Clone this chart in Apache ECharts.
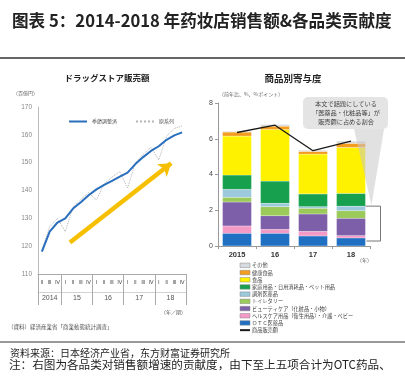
<!DOCTYPE html>
<html><head><meta charset="utf-8">
<script src="https://cdn.jsdelivr.net/npm/echarts@6/dist/echarts.min.js"></script>
<style>html,body{margin:0;padding:0;background:#fff;}#c{width:405px;height:382px;}</style>
</head><body><div id="c"></div>
<script>
// ---- left chart data (quarterly, 2014 Q2 - 2018 Q4) ----
const quarterLabels = ['Ⅱ','Ⅲ','Ⅳ','Ⅰ','Ⅱ','Ⅲ','Ⅳ','Ⅰ','Ⅱ','Ⅲ','Ⅳ','Ⅰ','Ⅱ','Ⅲ','Ⅳ','Ⅰ','Ⅱ','Ⅲ','Ⅳ'];
const yearLabels = ['2014','15','16','17','18'];
const yearBounds = [0,3,7,11,15,19];
const seasonal = [118.0,125.2,128.5,130.0,133.5,135.8,138.3,140.4,142.0,143.5,145.0,146.4,149.5,152.0,154.2,155.9,158.2,159.8,160.9];
const original = [118.5,127.0,130.0,125.2,134.0,136.8,139.2,136.6,142.5,144.8,146.8,140.8,150.0,153.0,155.5,151.0,159.5,162.3,163.2];
const trendArrow = [[4.1,121.3],[17.1,149.8]];
const leftTicks = [110,170,10];

// ---- right chart data ----
const barYears = ['2015','16','17','18'];
const otc        = [0.71,0.71,0.56,0.45];
const healthcare = [0.41,0.22,0.26,0.13];
const beauty     = [1.34,0.76,0.97,0.97];
const toiletry   = [0.26,0.51,0.32,0.42];
const dispensing = [0.45,0.19,0.09,0.26];
const household  = [0.80,1.24,0.71,0.71];
const food       = [2.18,2.89,2.23,2.57];
const healthFood = [0.22,0.18,0.15,0.23];
const others     = [0.05,0.10,0.07,0.13];
const salesTotal = [6.35,6.76,5.33,5.87];
const rightTicks = [0,8,2];

const JP = '"Noto Sans CJK JP", "Noto Sans CJK SC", sans-serif';
const SC = '"Noto Sans CJK SC", sans-serif';

const barDefs = [
  ['ＯＴＣ医薬品', otc, '#1f6fc2'],
  ['ヘルスケア用品（衛生用品）・介護・ベビー', healthcare, '#f49ac6'],
  ['ビューティケア（化粧品・小物）', beauty, '#7d5ea8'],
  ['トイレタリー', toiletry, '#9bca5a'],
  ['調剤医薬品', dispensing, '#9cc9dc'],
  ['家庭用品・日用消耗品・ペット用品', household, '#17a14e'],
  ['食品', food, '#fff200'],
  ['健康食品', healthFood, '#f39c1f'],
  ['その他', others, '#d6dbe0']
];

const yearMid = [];
for (let i = 0; i < yearLabels.length; i++) yearMid.push((yearBounds[i] + yearBounds[i+1]) / 2);

const chart = echarts.init(document.getElementById('c'), null, {renderer: 'canvas'});

const series = [
  {name:'季節調整済', type:'line', xAxisIndex:0, yAxisIndex:0, data:seasonal, symbol:'none',
   lineStyle:{color:'#2a6fbd', width:2}, itemStyle:{color:'#2a6fbd'}, z:5},
  {name:'原系列', type:'line', xAxisIndex:0, yAxisIndex:0, data:original, symbol:'none',
   lineStyle:{color:'#b5b5b5', width:1, type:'dotted'}, itemStyle:{color:'#b5b5b5'}, z:4},
  {name:'trend', type:'lines', coordinateSystem:'cartesian2d', xAxisIndex:1, yAxisIndex:0,
   symbol:['none','arrow'], symbolSize:12, silent:true,
   lineStyle:{color:'#f6c000', width:4.5, opacity:1},
   data:[{coords: trendArrow}], z:3}
];
barDefs.forEach(d => series.push({
  name:d[0], type:'bar', stack:'contrib', xAxisIndex:2, yAxisIndex:1, data:d[1], barWidth:29,
  itemStyle:{color:d[2], borderColor:'rgba(255,255,255,0.35)', borderWidth:0.3}
}));
series.push({name:'商品販売額', type:'line', xAxisIndex:2, yAxisIndex:1, data:salesTotal, symbol:'none',
  lineStyle:{color:'#1a1a1a', width:1.3}, itemStyle:{color:'#1a1a1a'}, z:10});

const rightLegendData = barDefs.slice().reverse().map(d => ({name:d[0], icon:'rect'}));
rightLegendData.push({name:'商品販売額', itemStyle:{opacity:0}});

chart.setOption({
  animation:false,
  backgroundColor:'#fff',
  grid:[
    {left:38, top:107, width:148, height:167, outerBoundsMode:'none', containLabel:false},
    {left:218, top:103, width:152, height:143, outerBoundsMode:'none', containLabel:false}
  ],
  legend:[
    {data:[{name:'季節調整済', itemStyle:{opacity:0}}, {name:'原系列', itemStyle:{opacity:0}}],
     left:63, top:114, itemWidth:18, itemHeight:6, itemGap:18,
     textStyle:{fontSize:5, color:'#555', fontFamily:JP}},
    {data:rightLegendData, orient:'vertical', left:234, top:257, itemWidth:10, itemHeight:4.5, itemGap:0.5,
     textStyle:{fontSize:5.2, lineHeight:6.7, color:'#444', fontFamily:JP, padding:[0,0,0,-3]},
     itemStyle:{borderColor:'#888', borderWidth:0.5}}
  ],
  xAxis:[
    {gridIndex:0, type:'category', data:quarterLabels, boundaryGap:true,
     axisLine:{show:true, lineStyle:{color:'#aaa', width:1}}, axisTick:{show:false},
     axisLabel:{interval:0, fontSize:5.5, color:'#555', margin:6, fontFamily:'DejaVu Sans'}, splitLine:{show:false}},
    {gridIndex:0, type:'value', min:0, max:19, position:'bottom',
     axisLine:{show:false}, splitLine:{show:false},
     axisTick:{show:true, customValues:yearBounds, length:31, inside:false, lineStyle:{color:'#aaa', width:1}},
     axisLabel:{show:true, customValues:yearMid, margin:21, fontSize:7, color:'#555', fontFamily:'Liberation Sans',
       formatter: v => { const i = yearMid.indexOf(v); return i >= 0 ? yearLabels[i] : ''; }}},
    {gridIndex:1, type:'category', data:barYears, boundaryGap:true,
     axisLine:{show:true, lineStyle:{color:'#999', width:1}},
     axisTick:{show:true, length:3, lineStyle:{color:'#999'}},
     axisLabel:{fontSize:7.5, color:'#333', margin:5, fontWeight:'bold', fontFamily:'Liberation Sans'}},
    {gridIndex:0, type:'value', min:0, max:19, position:'bottom', offset:18,
     axisLine:{show:true, lineStyle:{color:'#c8c8c8', width:0.8}}, axisTick:{show:false}, axisLabel:{show:false}, splitLine:{show:false}}
  ],
  yAxis:[
    {gridIndex:0, type:'value', min:leftTicks[0], max:leftTicks[1], interval:leftTicks[2],
     axisLine:{show:true, lineStyle:{color:'#bbb', width:1}}, axisTick:{show:false}, splitLine:{show:false},
     axisLabel:{fontSize:6.5, color:'#888', margin:6, fontFamily:'Liberation Sans'}},
    {gridIndex:1, type:'value', min:rightTicks[0], max:rightTicks[1], interval:rightTicks[2],
     axisLine:{show:true, lineStyle:{color:'#999', width:1}}, axisTick:{show:true, length:3, lineStyle:{color:'#999'}},
     splitLine:{show:false},
     axisLabel:{fontSize:7, color:'#444', margin:5, fontFamily:'Liberation Sans'}}
  ],
  series: series
});

// annotations
const b5 = otc[3] + healthcare[3] + beauty[3] + toiletry[3] + dispensing[3];
const pTop = chart.convertToPixel({gridIndex:1}, [3, b5]);
const pBot = chart.convertToPixel({gridIndex:1}, [3, 0]);
const barRight = pTop[0] + 14.5;

function txt(text, x, y, size, o) {
  o = o || {};
  return {type:'text', x:x, y:y, z:200, silent:true, style:{
    text:text, font:(o.weight || 'normal') + ' ' + size + 'px ' + (o.family || JP),
    fill:o.color || '#333', textAlign:o.align || 'left', align:o.align || 'left',
    textVerticalAlign:'middle', verticalAlign:'middle'}};
}

const elements = [
  txt('图表 5：2014-2018 年药妆店销售额&各品类贡献度', 12, 21, 16.6, {weight:'bold', family:SC, color:'#222'}),
  {type:'line', z:200, shape:{x1:0, y1:58, x2:405, y2:58}, style:{stroke:'#333', lineWidth:1.5}},
  txt('ドラッグストア販売額', 107, 78, 8.5, {weight:'bold', align:'center', color:'#222'}),
  txt('商品別寄与度', 293, 78, 9.5, {weight:'bold', align:'center', color:'#222'}),
  txt('（百億円）', 13, 93, 5, {color:'#666'}),
  txt('（前年比、%、%ポイント）', 219, 94, 5, {color:'#666'}),
  txt('（年／期）', 161, 312, 5, {color:'#555'}),
  txt('（年）', 357, 260, 5, {color:'#555'}),
  txt('（資料）経済産業省「商業動態統計調査」', 8, 327, 5.5, {color:'#555'}),
  // callout
  {type:'polygon', z:150, silent:true, shape:{points:[[354,129],[384,129],[barRight + 6, pTop[1] - 1]]},
   style:{fill:'rgba(200,200,200,0.55)'}},
  {type:'rect', z:160, silent:true, shape:{x:303, y:97, width:85, height:32, r:5}, style:{fill:'#e4e4e4'}},
  txt('本文で話題にしている', 346, 104, 6.2, {align:'center', color:'#444'}),
  txt('「医薬品・化粧品等」が', 346, 113, 6.2, {align:'center', color:'#444'}),
  txt('販売額に占める割合', 346, 122, 6.2, {align:'center', color:'#444'}),
  {type:'polyline', z:170, silent:true,
   shape:{points:[[barRight, pTop[1]], [barRight + 15, pTop[1]], [barRight + 15, pBot[1] - 5], [barRight + 1, pBot[1] - 5]]},
   style:{stroke:'#777', lineWidth:1, fill:null}},
  // footer
  {type:'line', z:200, shape:{x1:0, y1:342, x2:405, y2:342}, style:{stroke:'#333', lineWidth:1.2}},
  txt('资料来源：日本经济产业省，东方财富证券研究所', 10, 353, 10, {family:SC, color:'#222'}),
  txt('注：右图为各品类对销售额增速的贡献度，由下至上五项合计为OTC药品、', 9, 365, 11.6, {family:SC, color:'#222'})
];
chart.setOption({graphic:{elements:elements}});
</script>
</body></html>
